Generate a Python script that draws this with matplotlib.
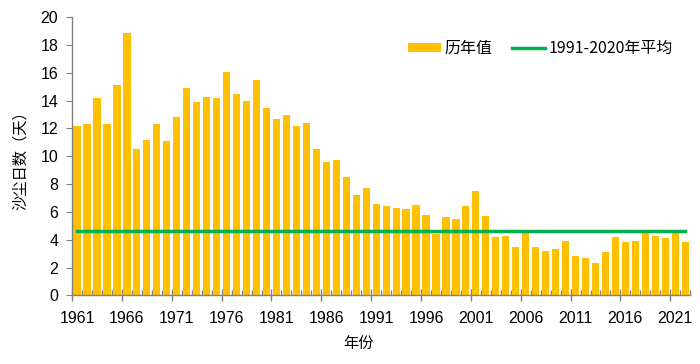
import matplotlib
matplotlib.use("Agg")
import matplotlib.pyplot as plt
import numpy as np
from matplotlib.ticker import MultipleLocator, FixedLocator

plt.rcParams['font.family'] = ['Liberation Sans', 'Noto Sans CJK SC', 'DejaVu Sans']

years = list(range(1961, 2023))
dust_days = [12.2, 12.3, 14.2, 12.3, 15.1, 18.9, 10.5, 11.2, 12.3, 11.1,
             12.8, 14.9, 13.9, 14.3, 14.2, 16.1, 14.5, 14.0, 15.5, 13.5,
             12.7, 13.0, 12.2, 12.4, 10.5, 9.6, 9.7, 8.5, 7.2, 7.7,
             6.6, 6.4, 6.3, 6.2, 6.5, 5.8, 4.4, 5.6, 5.5, 6.4,
             7.5, 5.7, 4.2, 4.3, 3.5, 4.5, 3.5, 3.2, 3.3, 3.9,
             2.8, 2.7, 2.3, 3.1, 4.2, 3.8, 3.9, 4.5, 4.3, 4.1,
             4.5, 3.8]
normal_1991_2020 = 4.6
xtick_labels = [str(y) for y in range(1961, 2023, 5)]

fig = plt.figure(figsize=(7, 3.64), dpi=100)
ax = fig.add_axes([0.103, 0.1887, 0.883, 0.7638])

x = np.arange(len(years))
bars = ax.bar(x, dust_days, width=0.72, color='#FFC000', label='历年值', zorder=2)
line, = ax.plot([x[0], x[-1]], [normal_1991_2020] * 2, color='#00B050', lw=2.5,
                label='1991-2020年平均', zorder=3)

ax.set_xlim(-0.5, len(years) - 0.5)
ax.set_ylim(0, 20)
ax.yaxis.set_major_locator(MultipleLocator(2))

major_pos = [years.index(int(l)) for l in xtick_labels]
ax.set_xticks([p - 0.5 for p in major_pos])
ax.set_xticklabels([])
ax.xaxis.set_minor_locator(FixedLocator([i - 0.5 for i in range(len(years) + 1)]))
for p, l in zip(major_pos, xtick_labels):
    ax.text(p, -0.055, l, transform=ax.get_xaxis_transform(), ha='center',
            va='top', fontsize=11.5, family='Liberation Sans')

ax.tick_params(axis='x', which='major', direction='inout', length=9,
               color='#808080', width=1)
ax.tick_params(axis='x', which='minor', direction='in', length=3.5,
               color='#808080', width=1)
ax.tick_params(axis='y', direction='out', length=4, color='#808080',
               labelsize=11.5, pad=6)

for s in ['top', 'right']:
    ax.spines[s].set_visible(False)
for s in ['left', 'bottom']:
    ax.spines[s].set_color('#808080')
    ax.spines[s].set_linewidth(1)

ax.set_ylabel('沙尘日数（天）', family=['Noto Sans CJK SC'], fontsize=11, labelpad=8)
fig.text(0.512, 0.055, '年份', family=['Noto Sans CJK SC'], fontsize=11,
         ha='center', va='center')

leg = ax.legend(handles=[bars, line], labels=['历年值', '1991-2020年平均'],
                loc='upper right', bbox_to_anchor=(0.995, 0.97), ncol=2,
                frameon=False, prop={'family': ['Noto Sans CJK SC'], 'size': 11.5},
                handlelength=2.1, handleheight=0.5, handletextpad=0.2,
                columnspacing=1.2)

fig.savefig('out.png', dpi=100)
